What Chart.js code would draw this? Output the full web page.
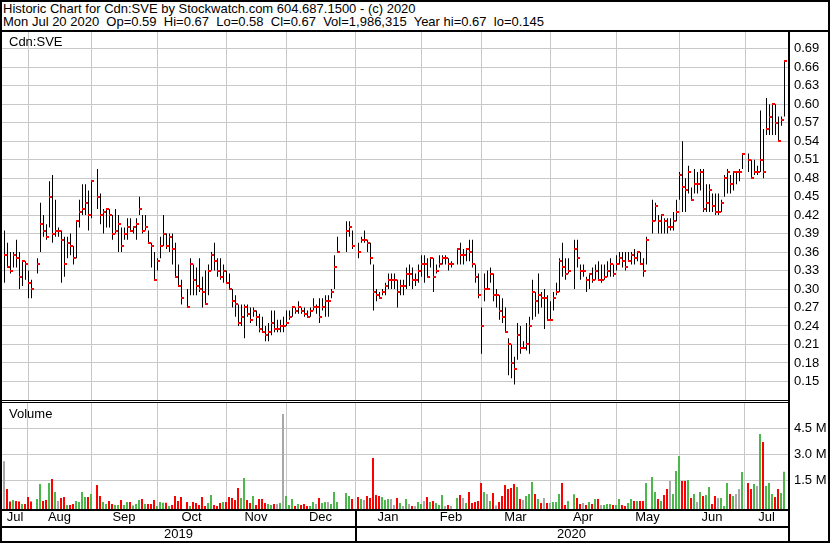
<!DOCTYPE html>
<html>
<head>
<meta charset="utf-8">
<script src="https://cdn.jsdelivr.net/npm/chart.js@4.4.1/dist/chart.umd.min.js"></script>
<style>
  body { margin: 0; background: #fff; }
  #wrap { position: relative; width: 830px; height: 543px; overflow: hidden;
          font-family: "Liberation Sans", Arial, sans-serif; font-size: 13px; color: #000; }
  .ln { position: absolute; background: #000; }
  .txt { position: absolute; white-space: pre; line-height: 14px; }
  canvas { position: absolute; }
</style>
</head>
<body>
<div id="wrap">
  <div class="txt" style="left:3px;top:2px">Historic Chart for Cdn:SVE by Stockwatch.com 604.687.1500 - (c) 2020</div>
  <div class="txt" style="left:3px;top:15px">Mon Jul 20 2020  Op=0.59  Hi=0.67  Lo=0.58  Cl=0.67  Vol=1,986,315  Year hi=0.67  lo=0.145</div>
  <canvas id="price" width="828" height="368" style="left:2px;top:32px"></canvas>
  <canvas id="vol" width="828" height="140" style="left:2px;top:403px"></canvas>
  <div class="txt" style="left:9px;top:35px">Cdn:SVE</div>
  <div class="txt" style="left:9px;top:407px">Volume</div>
  <div class="ln" style="left:0;top:0;width:830px;height:2px"></div>
  <div class="ln" style="left:0;top:541px;width:830px;height:2px"></div>
  <div class="ln" style="left:0;top:0;width:2px;height:543px"></div>
  <div class="ln" style="left:828px;top:0;width:2px;height:543px"></div>
  <div class="ln" style="left:0;top:30px;width:830px;height:2px"></div>
  <div class="ln" style="left:788px;top:30px;width:2px;height:513px"></div>
  <div class="ln" style="left:0;top:400px;width:790px;height:1px"></div>
  <div class="ln" style="left:0;top:402px;width:790px;height:1px"></div>
  <div class="ln" style="left:0;top:509px;width:790px;height:2px"></div>
  <div class="ln" style="left:0;top:526px;width:790px;height:2px"></div>
  <div class="ln" style="left:355px;top:509px;width:2px;height:34px"></div>
</div>
<script>
// one entry per weekday, 22 Jul 2019 .. 20 Jul 2020 (null = market closed)
const highs = [
  .395,.375,.36,.36,.38,.36,.345,.345,.33,.315,
  null,.35,.44,.42,.405,.475,.485,.445,.40,.395,
  .385,.385,.39,.37,.41,.445,.47,.47,.46,.475,
  null,.495,.455,.43,.43,.43,.42,.43,.42,.40,
  .40,.415,.415,.40,.415,.45,.42,.42,.395,.375,
  .36,.35,.385,.42,.39,.39,.39,.375,.34,.315,
  null,.30,.35,.34,.335,.35,.32,.33,.34,.36,
  .375,.35,.35,.34,.33,.325,.30,.29,.275,.275,
  .275,.275,.27,.27,.265,.26,.255,.24,.245,.265,
  .265,.25,.25,.255,.265,.265,.27,.27,.28,.27,
  .27,.265,.27,.285,.275,.285,.285,.29,.29,.30,
  .355,.385,null,null,.41,.41,.395,null,.375,.385,
  .395,.38,.375,.34,.30,.295,.30,.31,.325,.325,
  .325,.315,.315,.315,.335,.34,.335,.325,.34,.355,
  .355,.35,.35,.35,.34,.355,.355,.355,.35,.345,
  null,.365,.375,.365,.365,.38,.38,.34,.325,.27,
  .325,.33,.335,.325,.30,.29,.285,.27,.22,.21,
  .19,.245,.24,.215,.245,.255,.315,.295,.325,.295,
  .30,.29,.28,.295,.31,.35,.375,.35,.35,null,
  .38,.38,.34,.34,.32,.325,.335,.34,.345,.34,
  .34,.345,.35,.34,.355,.36,.36,.36,.36,.36,
  .365,.36,.36,.35,.385,null,.445,.44,.42,.42,
  .415,.415,.415,.425,.445,.49,.54,.48,.50,.465,
  .495,.49,.495,.495,.47,.47,.455,.455,.455,.445,
  .485,.495,.485,.49,.49,.495,.52,null,.52,.51,
  .51,.50,.59,.56,.61,.60,.60,.60,.58,.58,.67
];
const lows = [
  .31,.335,.325,.335,.335,.30,.305,.315,.285,.285,
  null,.325,.36,.385,.38,.40,.375,.385,.385,.31,
  .32,.35,.355,.34,.35,.40,.42,.42,.395,.415,
  null,.43,.405,.39,.40,.40,.38,.39,.36,.36,
  .38,.38,.395,.39,.38,.42,.39,.395,.375,.335,
  .315,.33,.35,.37,.365,.36,.34,.32,.305,.275,
  null,.27,.29,.29,.29,.295,.27,.275,.29,.33,
  .33,.32,.315,.31,.31,.30,.27,.255,.24,.24,
  .22,.255,.245,.255,.24,.23,.23,.215,.215,.225,
  .23,.23,.23,.23,.24,.25,.255,.26,.26,.26,
  .255,.255,.255,.265,.26,.245,.265,.255,.255,.285,
  .30,.36,null,null,.36,.385,.365,null,.35,.375,
  .375,.36,.34,.265,.28,.285,.29,.29,.30,.30,
  .30,.27,.29,.29,.30,.305,.30,.305,.31,.32,
  .31,.32,.335,.295,.325,.335,.34,.34,.33,.335,
  null,.34,.34,.34,.345,.345,.335,.31,.285,.195,
  .28,.30,.31,.28,.27,.25,.245,.23,.16,.155,
  .145,.185,.195,.205,.20,.195,.25,.255,.26,.27,
  .235,.25,.25,.265,.29,.295,.32,.315,.325,null,
  .30,.335,.315,.32,.295,.30,.31,.315,.315,.31,
  .315,.32,.32,.32,.33,.34,.335,.33,.345,.34,
  .34,.345,.34,.32,.34,null,.39,.41,.39,.39,
  .39,.39,.395,.395,.41,.445,.425,.425,.455,.445,
  .455,.455,.46,.425,.425,.425,.425,.42,.42,.425,
  .45,.455,.455,.46,.47,.475,.495,null,.49,.48,
  .485,.485,.49,.48,.55,.55,.55,.55,.54,.565,.58
];
const closes = [
  .355,.335,.33,.355,.35,.32,.345,.34,.31,.30,
  null,.34,.405,.395,.385,.45,.39,.395,.395,.38,
  .34,.375,.37,.35,.41,.425,.43,.44,.42,.475,
  null,.45,.42,.425,.43,.42,.39,.395,.405,.37,
  .39,.40,.395,.40,.405,.43,.395,.40,.375,.37,
  .315,.345,.37,.39,.37,.385,.365,.32,.305,.285,
  null,.27,.34,.315,.305,.30,.295,.275,.33,.355,
  .345,.33,.32,.33,.31,.30,.28,.275,.245,.255,
  .27,.26,.25,.265,.255,.235,.23,.225,.23,.245,
  .235,.235,.24,.24,.245,.255,.27,.265,.27,.265,
  .26,.255,.265,.27,.27,.255,.27,.28,.28,.295,
  .335,.36,null,null,.395,.40,.37,null,.36,.38,
  .38,.375,.35,.295,.29,.285,.295,.305,.315,.315,
  .315,.295,.305,.305,.325,.325,.315,.315,.33,.34,
  .34,.32,.35,.32,.33,.34,.35,.35,.34,.34,
  null,.365,.355,.355,.365,.36,.34,.32,.29,.24,
  .30,.30,.325,.29,.29,.265,.255,.23,.21,.18,
  .17,.225,.205,.205,.21,.24,.295,.28,.29,.285,
  .285,.25,.25,.285,.295,.345,.335,.325,.33,null,
  .365,.35,.33,.33,.315,.325,.315,.33,.315,.315,
  .32,.33,.34,.325,.34,.35,.345,.335,.345,.355,
  .35,.36,.34,.33,.38,null,.41,.435,.41,.42,
  .41,.40,.40,.41,.425,.485,.465,.46,.49,.445,
  .47,.47,.49,.43,.44,.46,.435,.425,.425,.44,
  .48,.49,.47,.49,.49,.49,.52,null,.51,.48,
  .49,.49,.51,.49,.56,.58,.60,.57,.54,.575,.67
];
// volume in millions of shares
const volumes = [
  2.6,1.0,.27,.37,.31,.27,.13,.13,.54,.27,
  null,.42,1.29,.31,.37,1.35,1.58,.83,.31,.48,
  .54,.08,.08,.13,.31,.25,.83,.54,.54,.71,
  null,1.23,.60,.25,.13,.31,.13,.08,.08,.37,
  .08,.25,.25,.04,.13,.37,.42,.13,.13,.13,
  .37,.02,.25,.21,.21,.02,.08,.60,.31,.54,
  null,.25,.02,.25,.19,.08,.54,.02,.19,.65,
  .08,.02,.19,.25,.25,.54,.48,.37,1.06,.48,
  1.63,.37,.19,.60,.08,.42,.42,.19,.13,.08,
  .13,.13,.19,5.33,.60,.08,.42,.02,.13,.08,
  .13,.02,.02,.25,.13,.48,.19,.25,.25,.13,
  .83,.25,null,null,.77,.60,.42,null,.54,.42,
  .37,.60,.48,2.79,.65,.60,.54,.37,.42,.42,
  .08,.48,.19,.02,.42,.13,.02,.02,.25,.13,
  .31,.54,.25,.31,.19,.08,.65,.02,.08,.02,
  null,.48,.65,.48,.19,.83,.19,.25,.31,1.35,
  .83,.71,.31,.77,.05,.25,.60,1.23,1.0,1.06,
  1.29,1.12,.42,.37,.60,.71,1.4,.71,.42,.19,
  .48,.19,.19,.25,.25,.71,1.35,.08,.31,null,
  .69,.48,.13,.19,.08,.25,.13,.42,.42,.08,
  .08,.13,.13,.08,.08,.42,.08,.02,.19,.42,
  .31,.31,.31,.31,1.35,null,1.69,.83,.42,.31,
  .65,1.0,1.46,.71,2.04,2.9,1.46,1.46,1.52,.48,
  .71,.25,.83,.60,.65,1.12,.13,.60,.48,.48,
  .02,1.35,.71,.60,.71,1.0,1.98,null,1.35,1.0,
  1.29,1.17,4.17,3.71,1.17,1.35,.71,.54,1.0,.77,1.99
];

const monthNames = ['Jul', 'Aug', 'Sep', 'Oct', 'Nov', 'Dec', 'Jan', 'Feb', 'Mar', 'Apr', 'May', 'Jun', 'Jul'];
const monthStarts = [8, 29, 51, 74, 94, 117, 139, 159, 182, 204, 225, 247];
const yearNames = ['2019', '2020'];
const yearStarts = [117];
const priceTicks = [0.15, 0.18, 0.21, 0.24, 0.27, 0.30, 0.33, 0.36, 0.39, 0.42, 0.45, 0.48, 0.51, 0.54, 0.57, 0.60, 0.63, 0.66, 0.69];
const volTicks = [1.5, 3.0, 4.5];

// 3 px per weekday; price lines sit on pixel centres, volume bars on pixel edges
const X_MIN = -2.5 / 3, X_MAX = X_MIN + 786 / 3;
const XV_MIN = -2 / 3, XV_MAX = XV_MIN + 786 / 3;
const P_MIN = 0.1198, P_MAX = 0.7173;
const V_MIN = -0.156, V_MAX = 5.96;

const GRID = '#c8c8c8';
const FONT = { family: 'Liberation Sans', size: 13 };

function mids(bounds, lo, hi) {
  const all = [lo, ...bounds, hi];
  const out = [];
  for (let i = 0; i < all.length - 1; i++) out.push((all[i] + all[i + 1]) / 2);
  return out;
}

function fixTicks(values) {
  return s => { s.ticks = values.map(v => ({ value: v })); };
}

// red close tick, drawn to the right of the high-low line
const closeMark = document.createElement('canvas');
closeMark.width = 5;
closeMark.height = 2;
const cm = closeMark.getContext('2d');
cm.fillStyle = '#ff0000';
cm.fillRect(2, 0, 3, 2);

const rangePts = [];
const closePts = [];
const volPts = [];
const volColors = [];
let prev = null;
for (let i = 0; i < highs.length; i++) {
  if (highs[i] == null) continue;
  rangePts.push({ x: i, y: [lows[i], highs[i]] });
  closePts.push({ x: i, y: closes[i] });
  volPts.push({ x: i, y: volumes[i] });
  if (prev == null || closes[i] === prev) volColors.push('#a8a8a8');
  else if (closes[i] > prev) volColors.push('#4cb84c');
  else volColors.push('#ff0000');
  prev = closes[i];
}

function gridAxis(lo, hi) {
  return {
    type: 'linear', min: lo, max: hi, offset: false, weight: 0,
    afterBuildTicks: fixTicks(monthStarts),
    afterFit: s => { s.height = 0; s.paddingLeft = 0; s.paddingRight = 0; },
    grid: { color: GRID, drawTicks: false, offset: false },
    border: { display: false },
    ticks: { display: false }
  };
}

function labelAxis(centers, names, weight, lo, hi) {
  return {
    type: 'linear', position: 'bottom', min: lo, max: hi, offset: false, weight: weight,
    afterBuildTicks: fixTicks(centers),
    afterFit: s => { s.height = 17; s.paddingLeft = 0; s.paddingRight = 0; },
    grid: { display: false, drawTicks: false, offset: false },
    border: { display: false },
    ticks: { autoSkip: false, maxRotation: 0, padding: 1, color: '#000', font: FONT,
             callback: (v, i) => names[i] }
  };
}

const base = {
  responsive: false, animation: false, devicePixelRatio: 1, events: [],
  layout: { padding: 0, autoPadding: false },
  plugins: { legend: { display: false }, tooltip: { enabled: false } }
};

new Chart(document.getElementById('price'), {
  type: 'bar',
  data: {
    datasets: [
      { type: 'scatter', data: closePts, pointStyle: closeMark, pointRadius: 1, order: 0 },
      { type: 'bar', data: rangePts, backgroundColor: '#000', barThickness: 1, inflateAmount: 0, order: 1 }
    ]
  },
  options: {
    ...base,
    scales: {
      x: gridAxis(X_MIN, X_MAX),
      y: {
        position: 'right', min: P_MIN, max: P_MAX,
        afterBuildTicks: fixTicks(priceTicks),
        afterFit: s => { s.width = 42; s.paddingTop = 0; s.paddingBottom = 0; },
        grid: { color: GRID, drawTicks: false },
        border: { display: false },
        ticks: { padding: 6, color: '#000', font: FONT, callback: v => v.toFixed(2) }
      }
    }
  }
});

new Chart(document.getElementById('vol'), {
  type: 'bar',
  data: {
    datasets: [
      { data: volPts, backgroundColor: volColors, barThickness: 2, inflateAmount: 0, base: V_MIN }
    ]
  },
  options: {
    ...base,
    scales: {
      x: gridAxis(XV_MIN, XV_MAX),
      xm: labelAxis(mids(monthStarts, XV_MIN, XV_MAX), monthNames, 1, XV_MIN, XV_MAX),
      xy: labelAxis(mids(yearStarts, XV_MIN, XV_MAX), yearNames, 2, XV_MIN, XV_MAX),
      y: {
        position: 'right', min: V_MIN, max: V_MAX,
        afterBuildTicks: fixTicks(volTicks),
        afterFit: s => { s.width = 42; s.paddingTop = 0; s.paddingBottom = 0; },
        grid: { color: GRID, drawTicks: false },
        border: { display: false },
        ticks: { padding: 6, color: '#000', font: FONT, callback: v => v.toFixed(1) + ' M' }
      }
    }
  }
});
</script>
</body>
</html>
